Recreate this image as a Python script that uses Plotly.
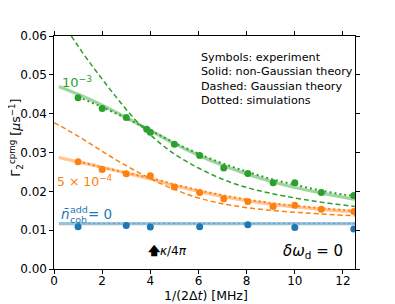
import plotly.graph_objects as go

# ---------------- data ----------------
# experiment (symbols)
x_exp_green = [1.0, 2.0, 3.0, 3.85, 4.0, 5.0, 6.05, 7.05, 8.05, 9.1, 10.0, 11.1, 12.45]
y_exp_green = [0.0441, 0.0413, 0.0390, 0.0360, 0.0352, 0.0321, 0.0292, 0.0260, 0.0246, 0.0222, 0.0222, 0.0197, 0.0189]

x_exp_orange = [1.0, 2.0, 3.0, 4.0, 5.0, 6.05, 7.05, 8.05, 9.1, 10.0, 11.1, 12.45]
y_exp_orange = [0.0276, 0.0256, 0.0245, 0.0240, 0.0211, 0.0197, 0.0181, 0.0174, 0.0161, 0.0164, 0.0154, 0.0148]

x_exp_blue = [1.0, 3.0, 4.0, 6.05, 8.05, 10.0, 12.45]
y_exp_blue = [0.0109, 0.0112, 0.0108, 0.0109, 0.0114, 0.0107, 0.0103]

# non-Gaussian theory (solid)
x_ng = [0.2, 1, 2, 3, 4, 5, 6, 7, 8, 9, 10, 11, 12, 12.5]
y_ng_green = [0.0470, 0.0450, 0.0422, 0.0390, 0.0357, 0.0323, 0.0293, 0.0267, 0.0245, 0.0226, 0.0210, 0.0197, 0.0185, 0.0179]
y_ng_orange = [0.0287, 0.0276, 0.0262, 0.0247, 0.0232, 0.0215, 0.0200, 0.0187, 0.0176, 0.0167, 0.0160, 0.0154, 0.0149, 0.0147]
y_ng_blue = [0.0117] * len(x_ng)

# Gaussian theory (dashed)
x_g_green = [0.72, 1.0, 1.5, 2.0, 2.5, 3.0, 3.5, 4.0, 4.5, 5.0, 5.5, 6.0, 7.0, 8.0, 9.0, 10.0, 11.0, 12.5]
y_g_green = [0.0600, 0.0574, 0.0530, 0.0489, 0.0449, 0.0411, 0.0376, 0.0346, 0.0319, 0.0296, 0.0277, 0.0260, 0.0231, 0.0210, 0.0195, 0.0183, 0.0173, 0.0161]
x_g_orange = [0.0, 0.5, 1.0, 1.5, 2.0, 2.5, 3.0, 3.5, 4.0, 4.5, 5.0, 5.5, 6.0, 7.0, 8.0, 9.0, 10.0, 11.0, 12.5]
y_g_orange = [0.0377, 0.0360, 0.0342, 0.0323, 0.0303, 0.0284, 0.0266, 0.0249, 0.0233, 0.0218, 0.0205, 0.0193, 0.0183, 0.0168, 0.0158, 0.0151, 0.0146, 0.0142, 0.0137]

# simulations (dotted)
x_sim = [1, 2, 3, 4, 5, 6, 7, 8, 9, 10, 11, 12, 12.5]
y_sim_green = [0.0443, 0.0417, 0.0388, 0.0357, 0.0325, 0.0297, 0.0272, 0.0251, 0.0232, 0.0217, 0.0203, 0.0192, 0.0188]
y_sim_orange = [0.0277, 0.0262, 0.0248, 0.0234, 0.0218, 0.0203, 0.0190, 0.0179, 0.0170, 0.0163, 0.0157, 0.0152, 0.0150]
y_sim_blue = [0.0117] * len(x_sim)

x_ticks = [0, 2, 4, 6, 8, 10, 12]
y_ticks = [0.00, 0.01, 0.02, 0.03, 0.04, 0.05, 0.06]

legend_lines = ["Symbols: experiment", "Solid: non-Gaussian theory", "Dashed: Gaussian theory", "Dotted: simulations"]

BLUE = "#1f77b4"
ORANGE = "#ff7f0e"
GREEN = "#2ca02c"
FONT = "DejaVu Sans"

# page offset (default body margin) and layout geometry
OFF = 8
W, H = 387, 296
L, R, T, B = 41, 40, 28, 35
pw, ph = W - L - R, H - T - B


def px(xw):
    return (xw - OFF - L) / pw


def py(yw):
    return (H - B - (yw - OFF)) / ph


def light(c, a):
    c = c.lstrip("#")
    r, g, b = int(c[0:2], 16), int(c[2:4], 16), int(c[4:6], 16)
    return f"rgba({r},{g},{b},{a})"


fig = go.Figure()

for xs, ys, c in [(x_ng, y_ng_blue, BLUE), (x_ng, y_ng_orange, ORANGE), (x_ng, y_ng_green, GREEN)]:
    fig.add_trace(go.Scatter(x=xs, y=ys, mode="lines", line=dict(color=light(c, 0.45), width=3.2, shape="spline"),
                             showlegend=False, hoverinfo="skip"))

for xs, ys, c in [(x_g_orange, y_g_orange, ORANGE), (x_g_green, y_g_green, GREEN)]:
    fig.add_trace(go.Scatter(x=xs, y=ys, mode="lines", line=dict(color=c, width=1.5, dash="5px,3px", shape="spline"),
                             showlegend=False, hoverinfo="skip"))

for xs, ys, c, wd in [(x_sim, y_sim_blue, light(BLUE, 0.45), 1.3), (x_sim, y_sim_orange, ORANGE, 2),
                      (x_sim, y_sim_green, GREEN, 2)]:
    fig.add_trace(go.Scatter(x=xs, y=ys, mode="lines", line=dict(color=c, width=wd, dash="2px,3px", shape="spline"),
                             showlegend=False, hoverinfo="skip"))

for xs, ys, c in [(x_exp_blue, y_exp_blue, BLUE), (x_exp_orange, y_exp_orange, ORANGE), (x_exp_green, y_exp_green, GREEN)]:
    fig.add_trace(go.Scatter(x=xs, y=ys, mode="markers", marker=dict(color=c, size=7, line=dict(width=0)),
                             showlegend=False, hoverinfo="skip"))

axis_common = dict(showline=True, linecolor="black", linewidth=1.2, mirror="ticks", ticks="outside",
                   ticklen=3.5, tickwidth=1, tickcolor="black", showgrid=False, zeroline=False,
                   tickfont=dict(family=FONT, size=12, color="black"))

fig.update_xaxes(range=[0, 12.5], tickvals=x_ticks, ticktext=[str(v) for v in x_ticks],
                 ticklabelstandoff=-3, **axis_common)
fig.update_yaxes(range=[0, 0.06], tickvals=y_ticks, ticktext=[f"{v:.2f}" for v in y_ticks], **axis_common)

fig.add_annotation(x=0.95, y=0.0482, xref="x", yref="y", text="10<sup>−3</sup>", showarrow=False,
                   font=dict(family=FONT, size=13, color=GREEN), xanchor="center", yanchor="middle")
fig.add_annotation(x=1.3, y=0.0226, xref="x", yref="y", text="5 × 10<sup>−4</sup>", showarrow=False,
                   font=dict(family=FONT, size=12.5, color=ORANGE), xanchor="center", yanchor="middle")

# blue label with stacked super/subscript: n̄ (coh below, add above) = 0
blue_font = dict(family=FONT, size=13.5, color=BLUE)
blue_small = dict(family=FONT, size=9.5, color=BLUE)
fig.add_annotation(x=px(54), y=py(214), xref="paper", yref="paper", text="<i>n̄</i>", showarrow=False,
                   font=blue_font, xanchor="left", yanchor="middle")
fig.add_annotation(x=px(63), y=py(209), xref="paper", yref="paper", text="add", showarrow=False,
                   font=blue_small, xanchor="left", yanchor="middle")
fig.add_annotation(x=px(63), y=py(219.5), xref="paper", yref="paper", text="coh", showarrow=False,
                   font=blue_small, xanchor="left", yanchor="middle")
fig.add_annotation(x=px(82), y=py(214), xref="paper", yref="paper", text="= 0", showarrow=False,
                   font=blue_font, xanchor="left", yanchor="middle")

fig.add_annotation(x=3.82, y=0.0046, xref="x", yref="y", text="<b>🡅</b><i>κ</i>/4<i>π</i>", showarrow=False,
                   font=dict(family=FONT, size=12, color="black"), xanchor="left", yanchor="middle")
fig.add_annotation(x=12.1, y=0.0046, xref="x", yref="y", text="<i>δω</i><sub>d</sub> = 0", showarrow=False,
                   font=dict(family=FONT, size=15, color="black"), xanchor="right", yanchor="middle")

line_y = [57, 71.5, 86, 100.5]
for txt, yy in zip(legend_lines, line_y):
    fig.add_annotation(x=px(196), y=py(yy), xref="paper", yref="paper", text=txt, showarrow=False,
                       font=dict(family=FONT, size=11.2, color="black"), xanchor="left", yanchor="middle",
                       align="left")

fig.add_annotation(x=px(204), y=py(295), xref="paper", yref="paper",
                   text="1/(2Δ<i>t</i>) [MHz]", showarrow=False, yanchor="middle", xanchor="center",
                   font=dict(family=FONT, size=12.5, color="black"))
fig.add_annotation(x=px(10), y=py(138), xref="paper", yref="paper",
                   text="Γ<sub>2</sub><sup>cpmg</sup> [<i>μ</i>s<sup>−1</sup>]", showarrow=False, textangle=-90,
                   yanchor="middle", xanchor="center", font=dict(family=FONT, size=12.5, color="black"))

fig.update_layout(width=W, height=H, margin=dict(l=L, r=R, t=T, b=B), plot_bgcolor="white",
                  paper_bgcolor="white", showlegend=False)

fig.write_html("out.html")
